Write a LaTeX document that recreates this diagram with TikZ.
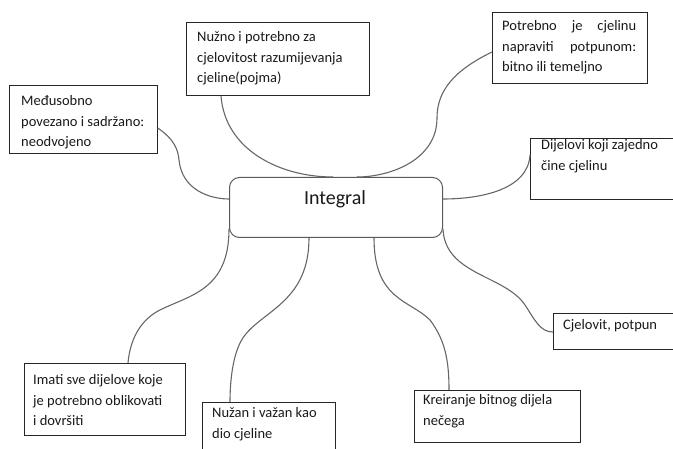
\documentclass[tikz,border=0pt]{standalone}
\usepackage{fontspec}
\setmainfont{Carlito}
\begin{document}
\begin{tikzpicture}[x=1pt,y=-1pt,
  box/.style={draw=black!85, line width=0.8pt, inner sep=0pt, anchor=north west},
  hub/.style={draw=black!65, line width=1pt, rounded corners=10pt, inner sep=0pt, anchor=north west},
  txt/.style={anchor=base west, inner sep=0pt, font=\fontsize{14.5}{20.5}\selectfont, text=black!90},
  link/.style={draw=black!60, line width=1.1pt}]
\useasboundingbox (0,0) rectangle (673,449);
\clip (0,0) rectangle (673,449);
% boxes
\node[box, minimum width=183pt, minimum height=73pt] (b1) at (186,22) {};
\node[box, minimum width=155pt, minimum height=71pt] (b2) at (492,12) {};
\node[box, minimum width=148pt, minimum height=68pt] (b3) at (9,85) {};
\node[box, minimum width=150pt, minimum height=61pt] (b4) at (530,138) {};
\node[hub, minimum width=213pt, minimum height=60pt] (c) at (229,177) {};
\node[box, minimum width=127pt, minimum height=36pt] (b6) at (553,313) {};
\node[box, minimum width=161pt, minimum height=72pt] (b7) at (24,363) {};
\node[box, minimum width=133pt, minimum height=58pt] (b8) at (202,402) {};
\node[box, minimum width=166pt, minimum height=52pt] (b9) at (414,390) {};
% texts
\node[txt] (t1) at (197,42) {\parbox[t]{170pt}{Nužno i potrebno za\\cjelovitost razumijevanja\\cjeline(pojma)}};
\node[txt] (t2) at (502,31) {\parbox[t]{134pt}{Potrebno\hfill je\hfill cjelinu\\napraviti\hfill potpunom:\\bitno ili temeljno}};
\node[txt] (t3) at (21,106) {\parbox[t]{135pt}{Međusobno\\povezano i sadržano:\\neodvojeno}};
\node[txt] (t4) at (541,150) {\parbox[t]{130pt}{Dijelovi koji zajedno\\čine cjelinu}};
\node[txt] (t6) at (563,330) {Cjelovit, potpun};
\node[txt] (t7) at (33,385) {\parbox[t]{150pt}{Imati sve dijelove koje\\je potrebno oblikovati\\i dovršiti}};
\node[txt] (t8) at (212,418) {\parbox[t]{120pt}{Nužan i važan kao\\dio cjeline}};
\node[txt] (t9) at (423,405) {\parbox[t]{155pt}{Kreiranje bitnog dijela\\nečega}};
\node[anchor=base, inner sep=0pt, font=\fontsize{20}{24}\selectfont, text=black!90] (ct) at (335,205) {Integral};
% connectors
\draw[link] ([xshift=35pt]b1.south west) .. controls (225,150) and (280,177) .. ([xshift=104pt]c.north west);
\draw[link] ([yshift=-40pt]b2.north west) .. controls (455,70) and (437,90) .. (437,118)
            .. controls (437,160) and (390,177) .. ([xshift=128pt]c.north west);
\draw[link] ([yshift=-43pt]b3.north east) .. controls (175,140) and (178,150) .. (179,160)
            .. controls (182,190) and (210,199) .. ([yshift=-22pt]c.north west);
\draw[link] ([yshift=-17pt]b4.north west) .. controls (528,190) and (480,199) .. ([yshift=-22pt]c.north east);
\draw[link] ([yshift=-52pt]c.north west) .. controls (229,290) and (190,295) .. (160,310)
            .. controls (140,320) and (130,340) .. ([xshift=104pt]b7.north west);
\draw[link] ([xshift=80pt]c.south west) .. controls (309,300) and (265,310) .. (245,335)
            .. controls (233,350) and (230,380) .. ([xshift=28pt]b8.north west);
\draw[link] ([xshift=145pt]c.south west) .. controls (374,300) and (410,300) .. (430,320)
            .. controls (445,340) and (449,360) .. ([xshift=35pt]b9.north west);
\draw[link] ([yshift=-52pt]c.north east) .. controls (445,275) and (505,275) .. (525,305)
            .. controls (535,320) and (540,332) .. ([yshift=-19pt]b6.north west);
\end{tikzpicture}
\end{document}
